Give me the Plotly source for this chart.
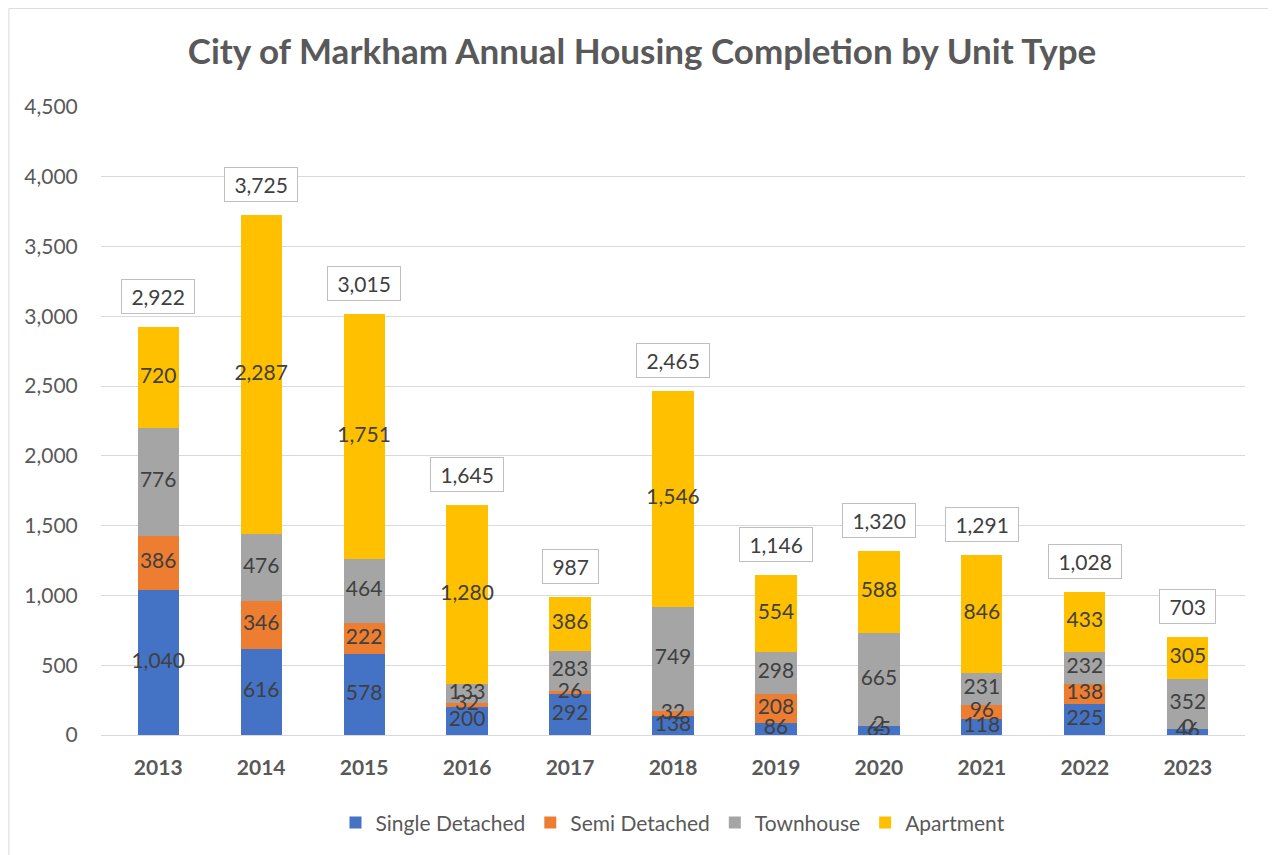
import plotly.graph_objects as go

years = ["2013", "2014", "2015", "2016", "2017", "2018", "2019", "2020", "2021", "2022", "2023"]
single_detached = [1040, 616, 578, 200, 292, 138, 86, 65, 118, 225, 46]
semi_detached = [386, 346, 222, 32, 26, 32, 208, 2, 96, 138, 0]
townhouse = [776, 476, 464, 133, 283, 749, 298, 665, 231, 232, 352]
apartment = [720, 2287, 1751, 1280, 386, 1546, 554, 588, 846, 433, 305]
totals = [2922, 3725, 3015, 1645, 987, 2465, 1146, 1320, 1291, 1028, 703]

series = [
    ("Single Detached", single_detached, "#4472c4"),
    ("Semi Detached", semi_detached, "#ed7d31"),
    ("Townhouse", townhouse, "#a5a5a5"),
    ("Apartment", apartment, "#ffc000"),
]

FONT = "Lato, 'Open Sans', sans-serif"
GREY = "#595959"
LABEL = "#404040"

fig = go.Figure()
for name, vals, col in series:
    fig.add_bar(x=years, y=vals, name=name,
                marker=dict(color=col, line=dict(width=0)), hoverinfo="skip")

# segment labels drawn on top of all bars (like Excel does)
base = [0] * len(years)
for name, vals, col in series:
    mids = [b + v / 2 for b, v in zip(base, vals)]
    fig.add_scatter(x=years, y=mids, mode="text", text=[f"{v:,}" for v in vals],
                    textposition="middle center", showlegend=False, hoverinfo="skip",
                    textfont=dict(size=21, color=LABEL, family=FONT))
    base = [b + v for b, v in zip(base, vals)]

# total labels in boxes above each stack (category axis -> use index)
for i, t in enumerate(totals):
    fig.add_annotation(
        x=i, y=t, xref="x", yref="y",
        text="\u00a0" + f"{t:,}" + "\u00a0",
        showarrow=False, yanchor="bottom", yshift=13,
        bordercolor="#bfbfbf", borderwidth=1, borderpad=4, bgcolor="white",
        font=dict(size=21, color=LABEL, family=FONT),
    )

# outer chart border
fig.add_shape(type="rect", xref="paper", yref="paper",
              x0=-0.0805, x1=1.0245, y0=-0.3, y1=1.157,
              line=dict(color="#d9d9d9", width=1), layer="below")

fig.update_layout(
    width=1268, height=847,
    barmode="stack", bargap=0.6,
    plot_bgcolor="white", paper_bgcolor="white",
    margin=dict(l=93, r=31, t=99, b=120),
    font=dict(family=FONT, color=GREY),
    title=dict(text="<b>City of Markham Annual Housing Completion by Unit Type</b>",
               x=0.5, xanchor="center", y=0.948, yanchor="middle",
               font=dict(size=35, color=GREY, family=FONT)),
    legend=dict(orientation="h", x=0.5, xanchor="center", y=-0.14, yanchor="middle",
                font=dict(size=21, color=GREY), traceorder="normal", itemwidth=30),
    xaxis=dict(type="category", categoryorder="array", categoryarray=years,
               showgrid=False, showline=True, linecolor="#d9d9d9", automargin=False,
               ticks="", ticklabelstandoff=14,
               tickfont=dict(size=21, color=GREY, family=FONT, weight="bold")),
    yaxis=dict(range=[0, 4500], dtick=500, tickformat=",", gridcolor="#d9d9d9",
               zeroline=False, showline=False, ticks="outside", ticklen=18, automargin=False,
               tickcolor="white", tickfont=dict(size=21, color=GREY)),
)

fig.write_html("out.html")
